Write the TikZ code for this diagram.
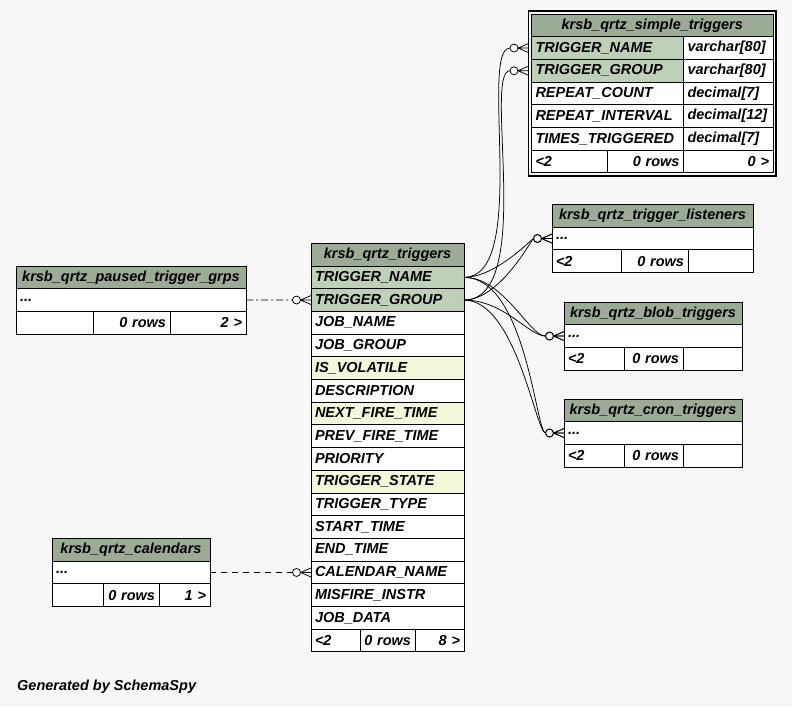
\documentclass[tikz,border=0pt]{standalone}
\usepackage{fontspec}
\setmainfont{Liberation Sans}
\usetikzlibrary{positioning}
\definecolor{bgcol}{HTML}{F7F7F7}
\definecolor{hdrcol}{HTML}{9BAB96}
\definecolor{keycol}{HTML}{BED1B8}
\definecolor{idxcol}{HTML}{F4F7DA}
\newcommand{\tabfont}{\fontsize{14.5}{17}\selectfont\bfseries\itshape}
\pgfdeclarearrow{
  name = crowodot,
  setup code = {
    \pgfarrowssettipend{0pt}
    \pgfarrowssetlineend{-18.5pt}
    \pgfarrowssetbackend{-18.5pt}
    \pgfarrowsupperhullpoint{0pt}{4.5pt}
    \pgfarrowsupperhullpoint{-18.5pt}{4pt}
  },
  drawing code = {
    \pgfsetdash{}{0pt}
    \pgfpathcircle{\pgfpoint{-14.5pt}{0pt}}{4pt}
    \pgfpathmoveto{\pgfpoint{-10.5pt}{0pt}}
    \pgfpathlineto{\pgfpoint{0pt}{4.5pt}}
    \pgfpathmoveto{\pgfpoint{-10.5pt}{0pt}}
    \pgfpathlineto{\pgfpoint{0pt}{0pt}}
    \pgfpathmoveto{\pgfpoint{-10.5pt}{0pt}}
    \pgfpathlineto{\pgfpoint{0pt}{-4.5pt}}
    \pgfusepathqstroke
  }
}
\tikzset{
  cell/.style={draw, line width=0.9pt, fill=white, minimum height=22.7pt, inner xsep=4pt, inner ysep=0pt, outer sep=0pt, anchor=north west, align=left, font=\tabfont},
  hdr/.style={cell, fill=hdrcol, align=center},
  rcell/.style={cell, align=right},
  key/.style={fill=keycol},
  idx/.style={fill=idxcol},
  fk/.style={line width=0.75pt, -{crowodot}},
  implied/.style={fk, dash pattern=on 6pt off 5pt},
  impliedgrp/.style={fk, dash pattern=on 7pt off 3pt on 2pt off 3pt}
}
\begin{document}
\begin{tikzpicture}[x=1pt, y=-1pt]
\fill[bgcol] (0,0) rectangle (792,707);
\useasboundingbox (0,0) rectangle (792,707);

\node[hdr, text width=145pt] (trg-hdr) at (311,243.3) {krsb\_qrtz\_triggers};
\node[cell, key, text width=145pt, below=0pt of trg-hdr] (trg-name) {TRIGGER\_NAME};
\node[cell, key, text width=145pt, below=0pt of trg-name] (trg-group) {TRIGGER\_GROUP};
\node[cell, text width=145pt, below=0pt of trg-group] (trg-jobname) {JOB\_NAME};
\node[cell, text width=145pt, below=0pt of trg-jobname] (trg-jobgroup) {JOB\_GROUP};
\node[cell, idx, text width=145pt, below=0pt of trg-jobgroup] (trg-volatile) {IS\_VOLATILE};
\node[cell, text width=145pt, below=0pt of trg-volatile] (trg-desc) {DESCRIPTION};
\node[cell, idx, text width=145pt, below=0pt of trg-desc] (trg-nextfire) {NEXT\_FIRE\_TIME};
\node[cell, text width=145pt, below=0pt of trg-nextfire] (trg-prevfire) {PREV\_FIRE\_TIME};
\node[cell, text width=145pt, below=0pt of trg-prevfire] (trg-prio) {PRIORITY};
\node[cell, idx, text width=145pt, below=0pt of trg-prio] (trg-state) {TRIGGER\_STATE};
\node[cell, text width=145pt, below=0pt of trg-state] (trg-type) {TRIGGER\_TYPE};
\node[cell, text width=145pt, below=0pt of trg-type] (trg-start) {START\_TIME};
\node[cell, text width=145pt, below=0pt of trg-start] (trg-end) {END\_TIME};
\node[cell, text width=145pt, below=0pt of trg-end] (trg-cal) {CALENDAR\_NAME};
\node[cell, text width=145pt, below=0pt of trg-cal] (trg-misfire) {MISFIRE\_INSTR};
\node[cell, text width=145pt, below=0pt of trg-misfire] (trg-data) {JOB\_DATA};
\node[cell, text width=41pt] (trg-prev) at (trg-data.south west) {<2};
\node[rcell, text width=47pt, right=0pt of trg-prev] (trg-rows) {0 rows};
\node[rcell, text width=41pt, right=0pt of trg-rows] (trg-next) {8 >};

\node[hdr, text width=233.5pt] (smp-hdr) at (531.5,14) {krsb\_qrtz\_simple\_triggers};
\node[cell, key, text width=144pt] (smp-name) at (smp-hdr.south west) {TRIGGER\_NAME};
\node[cell, key, text width=144pt, below=0pt of smp-name] (smp-group) {TRIGGER\_GROUP};
\node[cell, text width=144pt, below=0pt of smp-group] (smp-count) {REPEAT\_COUNT};
\node[cell, text width=144pt, below=0pt of smp-count] (smp-interval) {REPEAT\_INTERVAL};
\node[cell, text width=144pt, below=0pt of smp-interval] (smp-times) {TIMES\_TRIGGERED};
\node[cell, text width=81.5pt, right=0pt of smp-name] (smp-name-t) {varchar[80]};
\node[cell, text width=81.5pt, right=0pt of smp-group] (smp-group-t) {varchar[80]};
\node[cell, text width=81.5pt, right=0pt of smp-count] (smp-count-t) {decimal[7]};
\node[cell, text width=81.5pt, right=0pt of smp-interval] (smp-interval-t) {decimal[12]};
\node[cell, text width=81.5pt, right=0pt of smp-times] (smp-times-t) {decimal[7]};
\node[cell, text width=68pt] (smp-prev) at (smp-times.south west) {<2};
\node[rcell, text width=68pt, right=0pt of smp-prev] (smp-rows) {0 rows};
\node[rcell, text width=81.5pt, right=0pt of smp-rows] (smp-next) {0 >};
\draw[line width=1.2pt] ([shift={(-3,-3)}]smp-hdr.north west) rectangle ([shift={(3,3)}]smp-next.south east);

\node[hdr, text width=193pt] (lst-hdr) at (552,204.5) {krsb\_qrtz\_trigger\_listeners};
\node[cell, text width=193pt, below=0pt of lst-hdr] (lst-row) {...};
\node[cell, text width=61pt] (lst-prev) at (lst-row.south west) {<2};
\node[rcell, text width=59pt, right=0pt of lst-prev] (lst-rows) {0 rows};
\node[rcell, text width=57pt, right=0pt of lst-rows] (lst-next) {};

\node[hdr, text width=170pt] (blb-hdr) at (564,302) {krsb\_qrtz\_blob\_triggers};
\node[cell, text width=170pt, below=0pt of blb-hdr] (blb-row) {...};
\node[cell, text width=52pt] (blb-prev) at (blb-row.south west) {<2};
\node[rcell, text width=51pt, right=0pt of blb-prev] (blb-rows) {0 rows};
\node[rcell, text width=51pt, right=0pt of blb-rows] (blb-next) {};

\node[hdr, text width=170pt] (crn-hdr) at (564,399) {krsb\_qrtz\_cron\_triggers};
\node[cell, text width=170pt, below=0pt of crn-hdr] (crn-row) {...};
\node[cell, text width=52pt] (crn-prev) at (crn-row.south west) {<2};
\node[rcell, text width=51pt, right=0pt of crn-prev] (crn-rows) {0 rows};
\node[rcell, text width=51pt, right=0pt of crn-rows] (crn-next) {};

\node[hdr, text width=222pt] (pau-hdr) at (16,266) {krsb\_qrtz\_paused\_trigger\_grps};
\node[cell, text width=222pt, below=0pt of pau-hdr] (pau-row) {...};
\node[cell, text width=69pt] (pau-prev) at (pau-row.south west) {};
\node[rcell, text width=69pt, right=0pt of pau-prev] (pau-rows) {0 rows};
\node[rcell, text width=68pt, right=0pt of pau-rows] (pau-next) {2 >};

\node[hdr, text width=150pt] (cal-hdr) at (52,538.5) {krsb\_qrtz\_calendars};
\node[cell, text width=150pt, below=0pt of cal-hdr] (cal-row) {...};
\node[cell, text width=43pt] (cal-prev) at (cal-row.south west) {};
\node[rcell, text width=48pt, right=0pt of cal-prev] (cal-rows) {0 rows};
\node[rcell, text width=43pt, right=0pt of cal-rows] (cal-next) {1 >};

\draw[fk] (trg-name.east) to[out=0, in=180, out distance=66pt, in distance=50pt] ([xshift=-3pt]smp-name.west);
\draw[fk] (trg-group.east) to[out=0, in=180, out distance=72pt, in distance=46pt] ([xshift=-3pt]smp-group.west);
\draw[fk] (trg-name.east) to[out=0, in=180, out distance=32pt, in distance=20pt] (lst-row.west);
\draw[fk] (trg-group.east) to[out=0, in=180, out distance=36pt, in distance=20pt] (lst-row.west);
\draw[fk] (trg-name.east) to[out=0, in=180, out distance=40pt, in distance=35pt] (blb-row.west);
\draw[fk] (trg-group.east) to[out=0, in=180, out distance=40pt, in distance=35pt] (blb-row.west);
\draw[fk] (trg-name.east) to[out=0, in=180, out distance=62pt, in distance=28pt] (crn-row.west);
\draw[fk] (trg-group.east) to[out=0, in=180, out distance=52pt, in distance=28pt] (crn-row.west);
\draw[impliedgrp] (pau-row.east) -- (trg-group.west);
\draw[implied] (cal-row.east) -- (trg-cal.west);

\node[anchor=west, inner sep=0pt, font=\tabfont] (gen) at (17,687) {Generated by SchemaSpy};
\end{tikzpicture}
\end{document}
